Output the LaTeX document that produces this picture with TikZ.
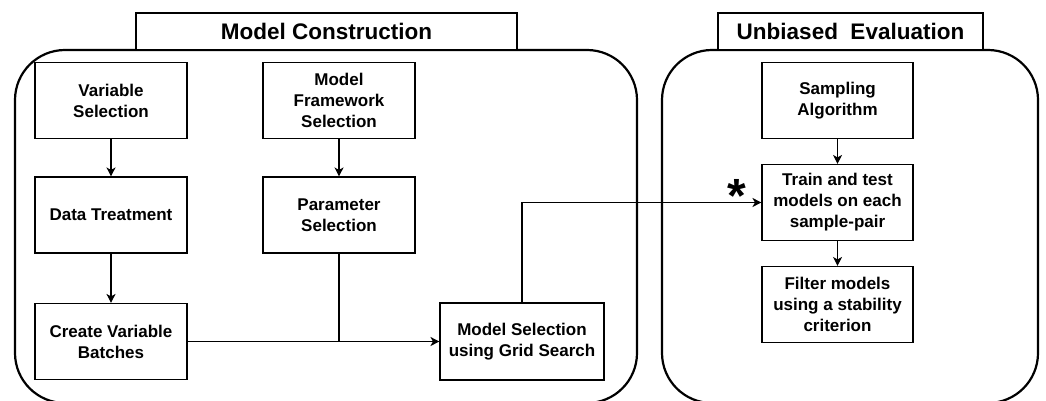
\documentclass[tikz,border=0pt]{standalone}
\usepackage{fontspec}
\setmainfont{Liberation Sans}
\usetikzlibrary{arrows.meta}
\usetikzlibrary{positioning}

\begin{document}
\begin{tikzpicture}[x=1pt,y=-1pt,node distance=102pt,
  every node/.style={align=center,font=\bfseries\fontsize{17}{21}\selectfont},
  stage/.style={draw,line width=1.1pt,minimum width=152pt,minimum height=76pt,inner sep=1pt},
  group/.style={draw,line width=2.2pt,rounded corners=50pt},
  heading/.style={draw,fill=white,line width=1.1pt,minimum height=37pt,font=\bfseries\fontsize{22.5}{26}\selectfont},
  link/.style={line width=1.1pt,-{Stealth[length=9pt,width=9pt,inset=2.5pt]}}]
  \useasboundingbox (0,0) rectangle (1046,401);

  % the two stages
  \draw[group] (15,50) rectangle (637,403);
  \draw[group] (662,50) rectangle (1038,403);
  \node[heading,minimum width=381pt] (mc) at (326.5,31.5) {Model Construction};
  \node[heading,minimum width=265pt] (ue) at (850.5,31.5) {Unbiased\ \ Evaluation};

  \node[stage] (vs) at (111,100.5) {Variable\\Selection};
  \node[stage] (dt) at (111,215) {Data Treatment};
  \node[stage] (cv) at (111,341.5) {Create Variable\\Batches};
  \node[stage] (mf) at (339,100.5) {Model\\Framework\\Selection};
  \node[stage] (ps) at (339,215) {Parameter\\Selection};
  \node[stage,minimum width=164pt,minimum height=77pt] (ms) at (522,341.5) {Model Selection\\using Grid Search};

  \node[stage,minimum width=151pt] (sa) at (837.5,100.5) {Sampling\\Algorithm};
  \node[stage,minimum width=151pt,below of=sa] (tt) {Train and test\\models on each\\sample-pair};
  \node[stage,minimum width=151pt,below of=tt] (fm) {Filter models\\using a stability\\criterion};
  \node[inner sep=0pt,font=\bfseries\fontsize{48}{48}\selectfont] (star) at (737,196) {*};

  \draw[link](vs)--(dt);
  \draw[link](dt)--(cv);
  \draw[link](mf)--(ps);
  \draw[link](cv)--(ms);
  \coordinate (join) at (ps.south |- cv.east);
  \draw[line width=1.1pt](ps)--(join);
  \draw[link](ms.north)|-(tt.west);
  \draw[link](sa)--(tt);
  \draw[link](tt)--(fm);
\end{tikzpicture}
\end{document}
